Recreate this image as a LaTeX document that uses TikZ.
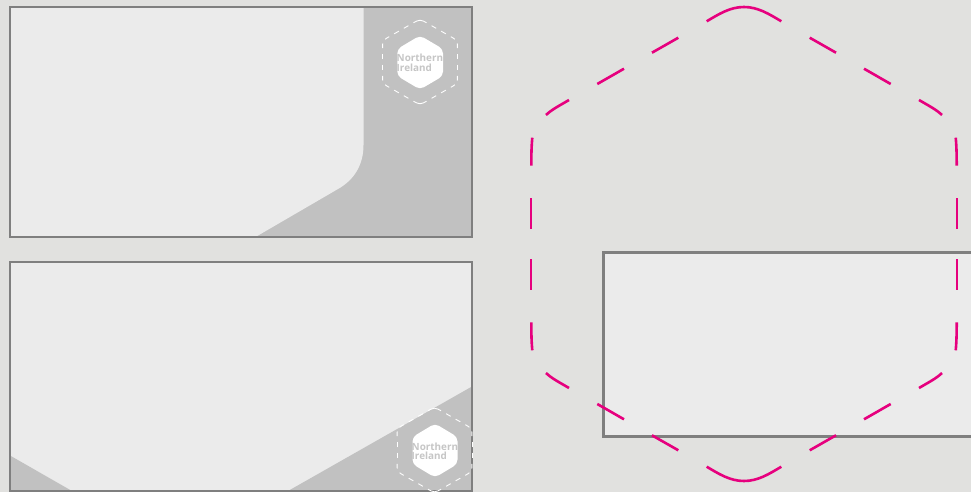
\documentclass[tikz,border=0pt]{standalone}
\usepackage{fontspec}
\setsansfont{Open Sans}
\definecolor{pagebg}{HTML}{E1E1DF}
\definecolor{panellight}{HTML}{EBEBEB}
\definecolor{panelgrey}{HTML}{C1C1C1}
\definecolor{panelline}{HTML}{7F7F7F}
\definecolor{hexpink}{HTML}{E6007E}
\definecolor{logotext}{HTML}{C6C6C6}
\newcommand{\hexquad}{%
  \draw (-213,-15) -- (-213,-46);
  \draw (-212.7,-78.3) .. controls (-212.7,-90) and (-212.5,-98) .. (-211.7,-106.3);
  \draw (-198,-129) .. controls (-192,-134.5) and (-187,-137) .. (-175,-144);
  \draw (-146.7,-160) -- (-120,-175.3);
  \draw (-92,-191.3) -- (-65.7,-206.3);
  \draw (-37.3,-222.7) .. controls (-25,-230) and (-14,-237) .. (0,-237);
}
\newcommand{\hexfull}{%
  \foreach \sx in {1,-1}{\foreach \sy in {1,-1}{
    \begin{scope}[xscale=\sx,yscale=\sy]\hexquad\end{scope}
  }}%
}
\tikzset{
  x=1pt,y=-1pt,
  panelborder/.style={draw=panelline,line width=1.8pt},
  pinkdash/.style={draw=hexpink,line width=2.6pt},
  whitedash/.style={draw=white,line width=0.9pt},
  logotxt/.style={font=\sffamily\bfseries\fontsize{9.9}{9.4}\selectfont,text=logotext,align=left,inner sep=0pt,anchor=west},
}
\begin{document}
\begin{tikzpicture}
\useasboundingbox (0,0) rectangle (971,492);
\clip (0,0) rectangle (971,492);
\fill[pagebg] (0,0) rectangle (971,492);
% panel 1
\fill[panelgrey] (10,7) rectangle (472,237);
\fill[panellight] (10,7) -- (363.5,7) -- (363.5,145)
  .. controls (363.5,165) and (354,180) .. (338,189) -- (255.5,237) -- (10,237) -- cycle;
\draw[panelborder] (10,7) rectangle (472,237);
% panel 2
\fill[panellight] (10,262) rectangle (472,491);
\fill[panelgrey] (472,386.5) -- (288,491) -- (472,491) -- cycle;
\fill[panelgrey] (10,455.5) -- (72,491) -- (10,491) -- cycle;
\draw[panelborder] (10,262) rectangle (472,491);
% panel 3
\fill[panellight] (603.5,252.5) rectangle (980,436.5);
\draw[draw=panelline,line width=2.6pt] (980,252.5) -- (603.5,252.5) -- (603.5,436.5) -- (980,436.5);
% large hexagon
\begin{scope}[shift={(744,244)},every path/.append style={pinkdash}]
  \hexfull
\end{scope}
% logo 1
\begin{scope}[shift={(420,62)},scale=0.176,every path/.append style={whitedash}]
  \hexfull
\end{scope}
\fill[white,rounded corners=4.5pt] (420,35.5) -- (443,49) -- (443,76) -- (420,89.5) -- (397.3,76) -- (397.3,49) -- cycle;
\node[logotxt] (logoa) at (396.5,62.8) {Northern\\Ireland};
% logo 2
\begin{scope}[shift={(434.5,450)},scale=0.176,every path/.append style={whitedash}]
  \hexfull
\end{scope}
\fill[white,rounded corners=4.5pt] (435,423.5) -- (457.5,437) -- (457.5,464) -- (435,477.5) -- (412.5,464) -- (412.5,437) -- cycle;
\node[logotxt] (logob) at (411.5,451) {Northern\\Ireland};
\end{tikzpicture}
\end{document}
